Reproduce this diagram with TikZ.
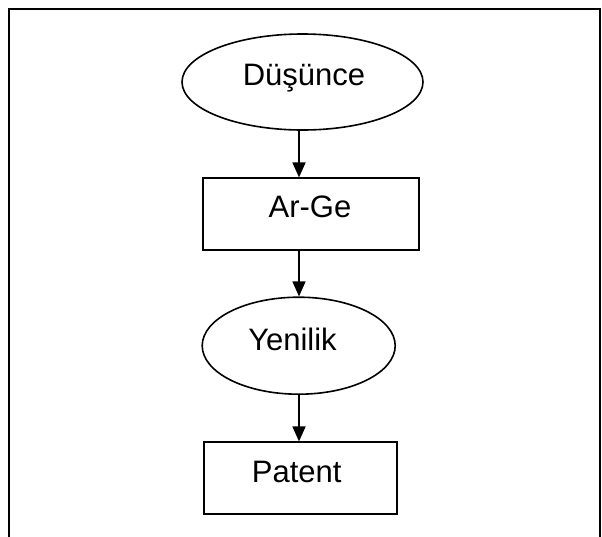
\documentclass[tikz,border=0pt]{standalone}
\usepackage{fontspec}
\setmainfont{Liberation Sans}
\usetikzlibrary{shapes.geometric,arrows.meta}

\begin{document}
\begin{tikzpicture}[x=1pt,y=-1pt,
  shapeline/.style={draw=black,line width=1.6pt,inner sep=0pt,fill=white},
  oval/.style={shapeline,ellipse},
  boxnode/.style={shapeline,rectangle},
  lbl/.style={anchor=base,inner sep=0pt,font=\fontsize{31}{36}\selectfont},
  flow/.style={draw=black,line width=1.6pt,-{Triangle[length=15pt,width=13pt]}},
  frameline/.style={draw=black,line width=2pt}
]
\useasboundingbox (0,0) rectangle (602,536);
\fill[white] (0,0) rectangle (602,536);

% outer frame, open at the bottom
\coordinate (fbl) at (9,540);
\coordinate (ftl) at (9,9);
\coordinate (ftr) at (600,9);
\coordinate (fbr) at (600,540);
\draw[frameline] (fbl) -- (ftl) -- (ftr) -- (fbr);

% flow shapes
\node[oval, minimum width=241pt, minimum height=96pt] (idea) at (302.5,82) {};
\node[boxnode, minimum width=216pt, minimum height=72pt] (rnd) at (310.7,214.2) {};
\node[oval, minimum width=193pt, minimum height=97pt] (innov) at (298.7,345.7) {};
\node[boxnode, minimum width=193pt, minimum height=72pt] (pat) at (300.7,478.2) {};

% labels
\node[lbl] (tidea) at (304,85.5) {Düşünce};
\node[lbl] (trnd) at (310,217.3) {Ar-Ge};
\node[lbl] (tinnov) at (292.5,350) {Yenilik};
\node[lbl] (tpat) at (296.7,482.7) {Patent};

% connectors along a common vertical
\coordinate (axis) at (299,0);
\draw[flow] (idea.south -| axis) -- (rnd.north -| axis);
\draw[flow] (rnd.south -| axis) -- (innov.north -| axis);
\draw[flow] (innov.south -| axis) -- (pat.north -| axis);
\end{tikzpicture}
\end{document}
